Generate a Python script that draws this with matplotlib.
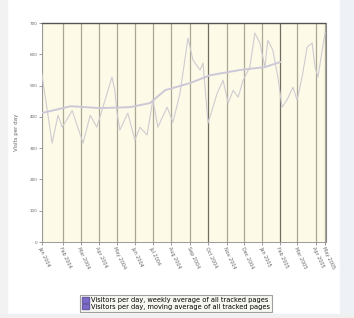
import numpy as np
import matplotlib.pyplot as plt
from matplotlib.patches import Rectangle

# semanas desde o inicio e visitas diarias (serie semanal)
semanas = [0, 2.5, 3.9, 4.9, 7.3, 9.9, 11.6, 13.2, 14.4, 16.8, 17.5, 18.0, 18.7,
           20.6, 22.3, 23.5, 25.2, 26.6, 27.8, 30.0, 31.4, 33.1, 35.0, 36.2, 37.9,
           38.6, 39.8, 42.0, 43.4, 44.6, 45.8, 47.0, 48.2, 49.8, 51.0, 52.2, 53.4,
           54.1, 55.3, 56.5, 57.5, 58.7, 60.1, 61.1, 62.3, 63.5, 64.7, 65.4, 66.1,
           67.1, 67.8]
visitas = [540, 316, 405, 367, 420, 316, 405, 367, 420, 527, 485, 415, 358,
           412, 326, 367, 342, 454, 367, 431, 383, 476, 652, 581, 550,
           572, 380, 476, 517, 444, 485, 463, 517, 559, 668, 636, 559,
           645, 613, 527, 431, 454, 495, 454, 527, 623, 636, 559, 527,
           613, 668]

# media movel
semanas_media = [0, 6.9, 14.0, 21.1, 25.9, 29.5, 35.5, 40.3, 47.5, 53.4, 57.0]
media = [412, 434, 428, 431, 444, 485, 508, 533, 550, 559, 575]

ticks = [0, 5.0, 9.4, 13.6, 17.9, 22.3, 26.6, 31.0, 35.5, 39.9, 44.3, 48.5,
         52.8, 57.0, 61.2, 65.6, 67.8]
rotulos = ['Jan 2004', 'Feb 2004', 'Mar 2004', 'Apr 2004', 'May 2004', 'Jun 2004',
           'Jul 2004', 'Aug 2004', 'Sep 2004', 'Oct 2004', 'Nov 2004', 'Dec 2004',
           'Jan 2005', 'Feb 2005', 'Mar 2005', 'Apr 2005', 'May 2005']
escuras = [9, 13]

fig = plt.figure(figsize=(3.54, 3.18), dpi=100)
fig.patch.set_facecolor('white')
fig.patches.append(Rectangle((340/354, 0), 14/354, 1, transform=fig.transFigure,
                             color='#eef2f6', zorder=-1))
fig.patches.append(Rectangle((0, 0), 7/354, 1, transform=fig.transFigure,
                             color='#f2f2f2', zorder=-1))
fig.patches.append(Rectangle((0, 0), 1, 4/318, transform=fig.transFigure,
                             color='#f0f0f0', zorder=-1))

ax = fig.add_axes([41.7/354, 1 - 242/318, (325.5 - 41.7)/354, (242 - 23)/318])
ax.set_facecolor('#fdfbe7')

for i, t in enumerate(ticks):
    cor = '#6e6e62' if i in escuras else '#a8a894'
    ax.axvline(t, color=cor, lw=0.9, zorder=1)

ax.plot(semanas, visitas, color='#cfcbd2', lw=0.8, zorder=3)
ax.plot(semanas_media, media, color='#cdc8d8', lw=1.4, zorder=3)

ax.set_xlim(0, 67.9)
ax.set_ylim(0, 700)
ax.set_yticks(range(0, 701, 100))
ax.set_yticklabels([str(v) for v in range(0, 701, 100)], fontsize=3, color='#666666')
ax.set_xticks(ticks)
ax.set_xticklabels(rotulos, rotation=-65, ha='left', va='top', fontsize=3.5,
                   color='#666666', rotation_mode='anchor')
ax.tick_params(axis='both', length=2, width=0.6, color='#888888', pad=1)
ax.set_ylabel('Visits per day', fontsize=4, color='#666666', labelpad=8)

for lado in ['left', 'bottom']:
    ax.spines[lado].set_color('#999999')
    ax.spines[lado].set_linewidth(0.7)
ax.spines['top'].set_color('#555555')
ax.spines['top'].set_linewidth(1.0)
ax.spines['right'].set_color('#888888')
ax.spines['right'].set_linewidth(0.8)

h1 = Rectangle((0, 0), 1, 1, facecolor='#7c6ccc', edgecolor='#6a5ca8')
h2 = Rectangle((0, 0), 1, 1, facecolor='#7c6ccc', edgecolor='#6a5ca8')
leg = fig.legend([h1, h2],
                 ['Visitors per day, weekly average of all tracked pages',
                  'Visitors per day, moving average of all tracked pages'],
                 loc='center', bbox_to_anchor=(176/354, 1 - 303.5/318),
                 fontsize=4.8, frameon=True, fancybox=False, handlelength=1.0,
                 handleheight=0.8, handletextpad=0.3, labelspacing=0.05,
                 borderpad=0.35)
leg.get_frame().set_facecolor('#f5f5ee')
leg.get_frame().set_edgecolor('#888888')
leg.get_frame().set_linewidth(0.8)

plt.savefig('out.png', dpi=100)
